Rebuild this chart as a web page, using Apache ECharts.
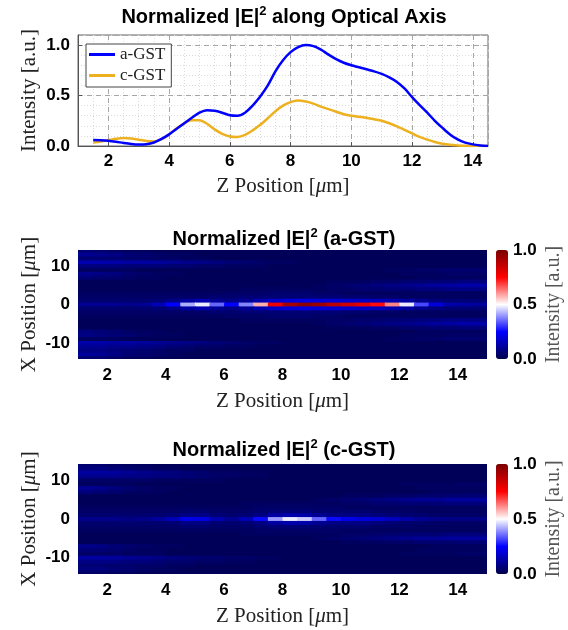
<!DOCTYPE html>
<html><head><meta charset="utf-8">
<script src="https://cdn.jsdelivr.net/npm/echarts@6/dist/echarts.min.js"></script>
<style>html,body{margin:0;padding:0;background:#fff}#c{width:568px;height:630px}</style>
</head><body><div id="c"></div>
<script>
// ---- line plot data (on-axis normalized |E|^2) ----
const zLine = [1.5,1.75,2,2.25,2.5,2.75,3,3.25,3.5,3.75,4,4.25,4.5,4.75,5,5.25,5.5,5.75,6,6.25,6.5,6.75,7,7.25,7.5,7.75,8,8.25,8.5,8.75,9,9.25,9.5,9.75,10,10.25,10.5,10.75,11,11.25,11.5,11.75,12,12.25,12.5,12.75,13,13.25,13.5,13.75,14,14.25,14.5];
const aGSTLine = [0.06,0.058,0.052,0.042,0.03,0.02,0.015,0.018,0.035,0.07,0.115,0.17,0.225,0.28,0.33,0.355,0.35,0.33,0.305,0.3,0.33,0.4,0.49,0.6,0.74,0.85,0.93,0.98,1.0,0.99,0.955,0.905,0.86,0.825,0.8,0.78,0.76,0.74,0.715,0.68,0.635,0.57,0.485,0.405,0.33,0.25,0.18,0.115,0.065,0.033,0.016,0.006,0.0];
const cGSTLine = [0.035,0.045,0.058,0.072,0.08,0.075,0.062,0.05,0.045,0.065,0.115,0.175,0.225,0.255,0.255,0.22,0.165,0.12,0.095,0.09,0.11,0.155,0.21,0.275,0.345,0.4,0.435,0.45,0.44,0.42,0.39,0.365,0.34,0.315,0.3,0.29,0.28,0.265,0.25,0.225,0.195,0.16,0.125,0.09,0.063,0.04,0.023,0.012,0.006,0.002,0.0,0.0,0.0];

// ---- heat map grid (cell centres) ----
const heatZ = [1.25,1.75,2.25,2.75,3.25,3.75,4.25,4.75,5.25,5.75,6.25,6.75,7.25,7.75,8.25,8.75,9.25,9.75,10.25,10.75,11.25,11.75,12.25,12.75,13.25,13.75,14.25,14.75];
const heatX = [14,13,12,11,10,9,8,7,6,5,4,3,2,1,0,-1,-2,-3,-4,-5,-6,-7,-8,-9,-10,-11,-12,-13,-14];

// intensity in percent, rows follow heatX, columns follow heatZ
const aGSTMap = [
[6,5,4,3,3,2,2,2,2,2,2,2,2,2,2,2,2,2,2,2,2,2,2,2,2,2,2,2],
[10,9,8,6,5,4,3,3,2,2,2,2,2,2,2,2,2,2,2,2,2,2,2,2,2,2,2,2],
[6,6,6,5,5,4,4,3,3,2,2,2,2,2,2,2,2,2,2,2,2,2,2,2,2,2,2,2],
[14,14,13,12,12,11,10,9,8,7,6,5,4,3,3,2,2,2,2,2,2,2,2,2,2,2,2,2],
[7,7,7,6,6,6,5,5,4,4,3,3,3,2,2,2,2,2,2,2,2,2,2,2,2,2,2,2],
[3,3,3,3,2,2,2,2,2,2,2,2,2,2,2,2,2,2,2,2,2,3,3,4,4,5,5,5],
[9,8,7,5,4,3,3,2,2,2,2,2,2,2,2,2,2,2,2,2,2,2,3,3,3,4,4,4],
[6,5,5,4,3,3,2,2,2,2,2,2,2,2,2,2,2,2,2,2,2,2,2,3,3,3,3,3],
[2,2,2,2,2,2,2,2,2,2,2,2,2,2,2,2,2,3,3,3,4,4,5,5,6,6,7,7],
[2,2,2,2,2,2,2,2,2,2,2,2,2,2,2,2,3,4,5,6,7,8,9,10,11,12,13,13],
[2,2,2,2,2,2,2,2,2,2,2,3,3,3,3,3,3,4,4,5,5,6,6,7,7,8,8,8],
[3,3,3,3,3,3,3,3,3,3,4,4,4,5,5,5,4,4,3,3,3,3,3,3,3,3,3,3],
[4,4,4,4,4,4,4,4,4,5,5,6,6,6,6,6,6,6,5,5,4,4,3,3,3,3,3,3],
[5,5,5,5,5,6,8,12,14,10,8,10,14,18,20,21,20,19,18,17,16,14,12,9,7,6,6,6],
[10,10,10,9,10,15,25,42,48,35,25,38,58,78,92,97,94,88,84,80,74,62,48,32,20,13,12,11],
[5,5,5,5,5,6,8,12,14,10,8,10,14,18,20,21,20,19,18,17,16,14,12,9,7,6,6,6],
[4,4,4,4,4,4,4,4,4,5,5,6,6,6,6,6,6,6,5,5,4,4,3,3,3,3,3,3],
[3,3,3,3,3,3,3,3,3,3,4,4,4,5,5,5,4,4,3,3,3,3,3,3,3,3,3,3],
[2,2,2,2,2,2,2,2,2,2,2,3,3,3,3,3,3,4,4,5,5,6,6,7,7,8,8,8],
[2,2,2,2,2,2,2,2,2,2,2,2,2,2,2,2,3,4,5,6,7,8,9,10,11,12,13,13],
[2,2,2,2,2,2,2,2,2,2,2,2,2,2,2,2,2,3,3,3,4,4,5,5,6,6,7,7],
[7,6,5,4,3,3,2,2,2,2,2,2,2,2,2,2,2,2,2,2,2,2,2,3,3,3,3,3],
[8,7,6,5,4,3,3,2,2,2,2,2,2,2,2,2,2,2,2,2,2,2,3,3,3,4,4,4],
[3,3,3,2,2,2,2,2,2,2,2,2,2,2,2,2,2,2,2,2,2,3,3,4,4,5,5,5],
[13,13,12,12,11,10,9,8,7,6,5,4,3,3,2,2,2,2,2,2,2,2,2,2,2,2,2,2],
[10,10,9,9,8,7,6,5,4,4,3,3,2,2,2,2,2,2,2,2,2,2,2,2,2,2,2,2],
[8,8,7,6,5,4,3,3,2,2,2,2,2,2,2,2,2,2,2,2,2,2,2,2,2,2,2,2],
[11,10,8,6,5,4,3,2,2,2,2,2,2,2,2,2,2,2,2,2,2,2,2,2,2,2,2,2],
[5,5,4,3,3,2,2,2,2,2,2,2,2,2,2,2,2,2,2,2,2,2,2,2,2,2,2,2]
];
const cGSTMap = [
[5,5,4,3,3,2,2,2,2,2,2,2,2,2,2,2,2,2,2,2,2,2,2,2,2,2,2,2],
[7,7,6,5,4,3,3,2,2,2,2,2,2,2,2,2,2,2,2,2,2,2,2,2,2,2,2,2],
[12,12,11,10,9,8,7,6,5,4,4,3,3,2,2,2,2,2,2,2,2,2,2,2,2,2,2,2],
[9,9,9,8,8,7,7,6,5,4,4,3,3,2,2,2,2,2,2,2,2,2,2,2,2,2,2,2],
[4,4,4,4,4,3,3,3,3,3,2,2,2,2,2,2,2,2,2,2,2,2,2,2,2,2,2,2],
[3,3,3,3,2,2,2,2,2,2,2,2,2,2,2,2,2,2,2,2,2,2,3,3,3,3,4,4],
[10,9,7,5,4,3,3,2,2,2,2,2,2,2,2,2,2,2,2,2,2,2,2,3,3,3,3,3],
[7,6,5,4,3,3,2,2,2,2,2,2,2,2,2,2,2,2,2,2,2,2,2,2,3,3,3,3],
[2,2,2,2,2,2,2,2,2,2,2,2,2,2,2,2,2,2,3,3,3,4,4,5,5,5,6,6],
[2,2,2,2,2,2,2,2,2,2,2,2,2,2,2,2,3,4,5,6,7,8,9,10,10,11,11,11],
[2,2,2,2,2,2,2,2,2,2,2,3,3,3,3,3,3,3,4,4,5,5,6,6,6,7,7,7],
[3,3,3,3,3,3,3,3,3,3,3,3,4,4,4,4,4,4,3,3,3,3,3,3,3,3,3,3],
[4,4,4,4,4,4,4,5,5,4,4,4,5,6,6,6,5,5,5,5,4,4,4,3,3,3,3,3],
[5,5,5,5,5,5,6,8,8,6,5,6,8,12,14,13,10,8,8,8,7,6,5,5,4,4,4,4],
[9,9,9,8,9,11,15,22,21,14,10,15,26,40,48,45,35,26,22,20,19,16,13,10,9,8,8,8],
[5,5,5,5,5,5,6,8,8,6,5,6,8,12,14,13,10,8,8,8,7,6,5,5,4,4,4,4],
[4,4,4,4,4,4,4,5,5,4,4,4,5,6,6,6,5,5,5,5,4,4,4,3,3,3,3,3],
[3,3,3,3,3,3,3,3,3,3,3,3,4,4,4,4,4,4,3,3,3,3,3,3,3,3,3,3],
[2,2,2,2,2,2,2,2,2,2,2,3,3,3,3,3,3,3,4,4,5,5,6,6,6,7,7,7],
[2,2,2,2,2,2,2,2,2,2,2,2,2,2,2,2,3,4,5,6,7,8,9,10,10,11,11,11],
[2,2,2,2,2,2,2,2,2,2,2,2,2,2,2,2,2,2,3,3,3,4,4,5,5,5,6,6],
[9,8,6,5,4,3,3,2,2,2,2,2,2,2,2,2,2,2,2,2,2,2,2,2,3,3,3,3],
[6,6,5,4,3,3,2,2,2,2,2,2,2,2,2,2,2,2,2,2,2,2,2,3,3,3,3,3],
[4,4,4,3,3,3,2,2,2,2,2,2,2,2,2,2,2,2,2,2,2,2,3,3,3,3,4,4],
[12,12,11,10,9,8,7,6,5,5,4,4,3,3,2,2,2,2,2,2,2,2,2,2,2,2,2,2],
[8,8,8,7,7,6,5,5,4,4,3,3,2,2,2,2,2,2,2,2,2,2,2,2,2,2,2,2],
[6,6,5,5,4,4,3,3,2,2,2,2,2,2,2,2,2,2,2,2,2,2,2,2,2,2,2,2],
[7,7,6,5,4,3,3,2,2,2,2,2,2,2,2,2,2,2,2,2,2,2,2,2,2,2,2,2],
[4,4,3,3,2,2,2,2,2,2,2,2,2,2,2,2,2,2,2,2,2,2,2,2,2,2,2,2]
];
const cbTicks = [0, 0.5, 1.0];

// ---- build ----
function pairs(xs, ys){ return xs.map((x,i)=>[x, ys[i]]); }
function cells(rows){
  const out = [];
  rows.forEach((row, r) => row.forEach((v, c) => out.push([heatZ[c], heatX[r], v/100])));
  return out;
}
const dz = heatZ[1]-heatZ[0], dx = heatX[0]-heatX[1];
function cellItem(params, api){
  const z = api.value(0), x = api.value(1);
  const a = api.coord([z - dz/2, x + dx/2]);
  const b = api.coord([z + dz/2, x - dx/2]);
  return {type:'rect', shape:{x:a[0], y:a[1], width:b[0]-a[0]+1, height:b[1]-a[1]+1},
          style:{fill: api.visual('color')}};
}

const SANS = 'Liberation Sans, Arial, sans-serif';
const SERIF = 'Liberation Serif, Times New Roman, serif';
const tickLab = {fontFamily:SANS, fontWeight:'bold', fontSize:17, color:'#000'};
const cmap = ['#00004a','#0000ff','#ffffff','#ff0000','#7a0000'];
function zName(){ return '{r|Z Position [}{i|\u03bc}{r|m]}'; }
function xName(){ return '{r|X Position [}{i|\u03bc}{r|m]}'; }
const nameRich = {fontFamily:SERIF, fontSize:21, color:'#222',
  rich:{r:{fontFamily:SERIF, fontSize:21, color:'#222'}, i:{fontFamily:SERIF, fontSize:21, fontStyle:'italic', color:'#222'}}};
function titleOf(text, top){
  return {text:text, left:'center', top:top, textStyle:{
    fontFamily:SANS, fontSize:20, fontWeight:'bold', color:'#000',
    rich:{b:{fontFamily:SANS, fontSize:20, fontWeight:'bold', color:'#000'},
          s:{fontFamily:SANS, fontSize:13, fontWeight:'bold', color:'#000', padding:[0,0,11,0]}}}};
}

const G0 = {left:78, top:35, width:410, height:111};
const G1 = {left:78, top:250, width:409, height:109};
const G2 = {left:78, top:464, width:409, height:110};

function heatXAxis(gi){
  return {type:'value', gridIndex:gi, min:1, max:15, minInterval:2, maxInterval:2, splitNumber:7,
    axisLine:{show:false}, axisTick:{inside:true, length:4, lineStyle:{color:'#ddd'}},
    axisLabel:Object.assign({margin:8, showMinLabel:false, showMaxLabel:false}, tickLab),
    splitLine:{show:false}, name:zName(), nameLocation:'middle', nameGap:32, nameTextStyle:nameRich};
}
function heatYAxis(gi){
  return {type:'value', gridIndex:gi, min:-14.2, max:14.2, minInterval:10, maxInterval:10,
    axisLine:{show:false}, axisTick:{inside:true, length:4, lineStyle:{color:'#ddd'}},
    axisLabel:Object.assign({margin:8, showMinLabel:false, showMaxLabel:false}, tickLab),
    splitLine:{show:false}, name:xName(), nameLocation:'middle', nameRotate:90, nameGap:38,
    nameMoveOverlap:false, nameTextStyle:nameRich};
}
function cbYAxis(gi){
  return {type:'value', gridIndex:gi, position:'right', min:cbTicks[0], max:cbTicks[2], interval:cbTicks[1],
    axisLine:{show:false}, axisTick:{show:false},
    axisLabel:Object.assign({margin:5, formatter:v=>v.toFixed(1)}, tickLab),
    splitLine:{show:false}, name:'Intensity [a.u.]', nameLocation:'middle', nameRotate:90, nameGap:36,
    nameTextStyle:{fontFamily:SERIF, fontSize:20, color:'#555'}};
}

const option = {
  animation:false,
  backgroundColor:'#fff',
  title:[
    titleOf('{b|Normalized |E|}{s|2}{b| along Optical Axis}', 0),
    titleOf('{b|Normalized |E|}{s|2}{b| (a-GST)}', 222),
    titleOf('{b|Normalized |E|}{s|2}{b| (c-GST)}', 433)
  ],
  legend:{data:['a-GST','c-GST'], left:86, top:44, orient:'vertical', icon:'rect', itemWidth:26, itemHeight:3,
    itemGap:4, padding:[2,6,3,3], borderColor:'#444', borderWidth:1, backgroundColor:'#fff',
    textStyle:{fontFamily:SERIF, fontSize:17, color:'#222'}, selectedMode:false},
  grid:[
    Object.assign({show:true, borderColor:'#666', borderWidth:1, backgroundColor:'#fff'}, G0),
    G1, G2,
    {left:496, top:250, width:12, height:109},
    {left:496, top:464, width:12, height:110}
  ],
  xAxis:[
    {type:'value', gridIndex:0, min:1, max:14.5, minInterval:2, maxInterval:2, splitNumber:7,
      axisLine:{lineStyle:{color:'#555'}}, axisTick:{inside:true, length:4, lineStyle:{color:'#555'}},
      axisLabel:Object.assign({margin:7, showMinLabel:false, showMaxLabel:false}, tickLab),
      splitLine:{show:true, lineStyle:{color:'#a6a6a6', type:[5,4], width:1}},
      name:zName(), nameLocation:'middle', nameGap:30, nameTextStyle:nameRich, z:3},
    {type:'value', gridIndex:0, min:1, max:14.5, interval:0.5, position:'top',
      axisLine:{show:false}, axisTick:{show:false}, axisLabel:{show:false},
      splitLine:{show:true, lineStyle:{color:'#dcdcdc', type:[1,2], width:1}}, z:1},
    heatXAxis(1), heatXAxis(2),
    {type:'value', gridIndex:3, show:false, min:0, max:1},
    {type:'value', gridIndex:4, show:false, min:0, max:1}
  ],
  yAxis:[
    {type:'value', gridIndex:0, min:0, max:1.1, interval:0.5,
      axisLine:{lineStyle:{color:'#555'}}, axisTick:{inside:true, length:4, lineStyle:{color:'#555'}},
      axisLabel:Object.assign({margin:8, showMaxLabel:false, formatter:v=>v.toFixed(1)}, tickLab),
      splitLine:{show:true, lineStyle:{color:'#a6a6a6', type:[5,4], width:1}},
      name:'Intensity [a.u.]', nameLocation:'middle', nameRotate:90, nameGap:38, nameMoveOverlap:false,
      nameTextStyle:{fontFamily:SERIF, fontSize:21, color:'#222'}, z:3},
    {type:'value', gridIndex:0, min:0, max:1.1, interval:0.1, position:'right',
      axisLine:{show:false}, axisTick:{show:false}, axisLabel:{show:false},
      splitLine:{show:true, lineStyle:{color:'#dcdcdc', type:[1,2], width:1}}, z:1},
    heatYAxis(1), heatYAxis(2),
    cbYAxis(3), cbYAxis(4)
  ],
  visualMap:[
    {type:'continuous', seriesIndex:2, dimension:2, min:0, max:1, calculable:false, hoverLink:false,
      left:496, top:250, itemWidth:12, itemHeight:109, padding:0, inRange:{color:cmap}, text:null},
    {type:'continuous', seriesIndex:3, dimension:2, min:0, max:1, calculable:false, hoverLink:false,
      left:496, top:464, itemWidth:12, itemHeight:110, padding:0, inRange:{color:cmap}, text:null}
  ],
  series:[
    {type:'line', name:'a-GST', xAxisIndex:0, yAxisIndex:0, data:pairs(zLine, aGSTLine), showSymbol:false,
      smooth:0.3, lineStyle:{color:'#0000ff', width:2.5}, itemStyle:{color:'#0000ff'}, z:5},
    {type:'line', name:'c-GST', xAxisIndex:0, yAxisIndex:0, data:pairs(zLine, cGSTLine), showSymbol:false,
      smooth:0.3, lineStyle:{color:'#edb120', width:2.5}, itemStyle:{color:'#edb120'}, z:4},
    {type:'custom', name:'heatA', xAxisIndex:2, yAxisIndex:2, data:cells(aGSTMap), renderItem:cellItem,
      encode:{x:0, y:1}, clip:true},
    {type:'custom', name:'heatC', xAxisIndex:3, yAxisIndex:3, data:cells(cGSTMap), renderItem:cellItem,
      encode:{x:0, y:1}, clip:true}
  ]
};
const chart = echarts.init(document.getElementById('c'), null, {renderer:'canvas'});
chart.setOption(option);
</script></body></html>
